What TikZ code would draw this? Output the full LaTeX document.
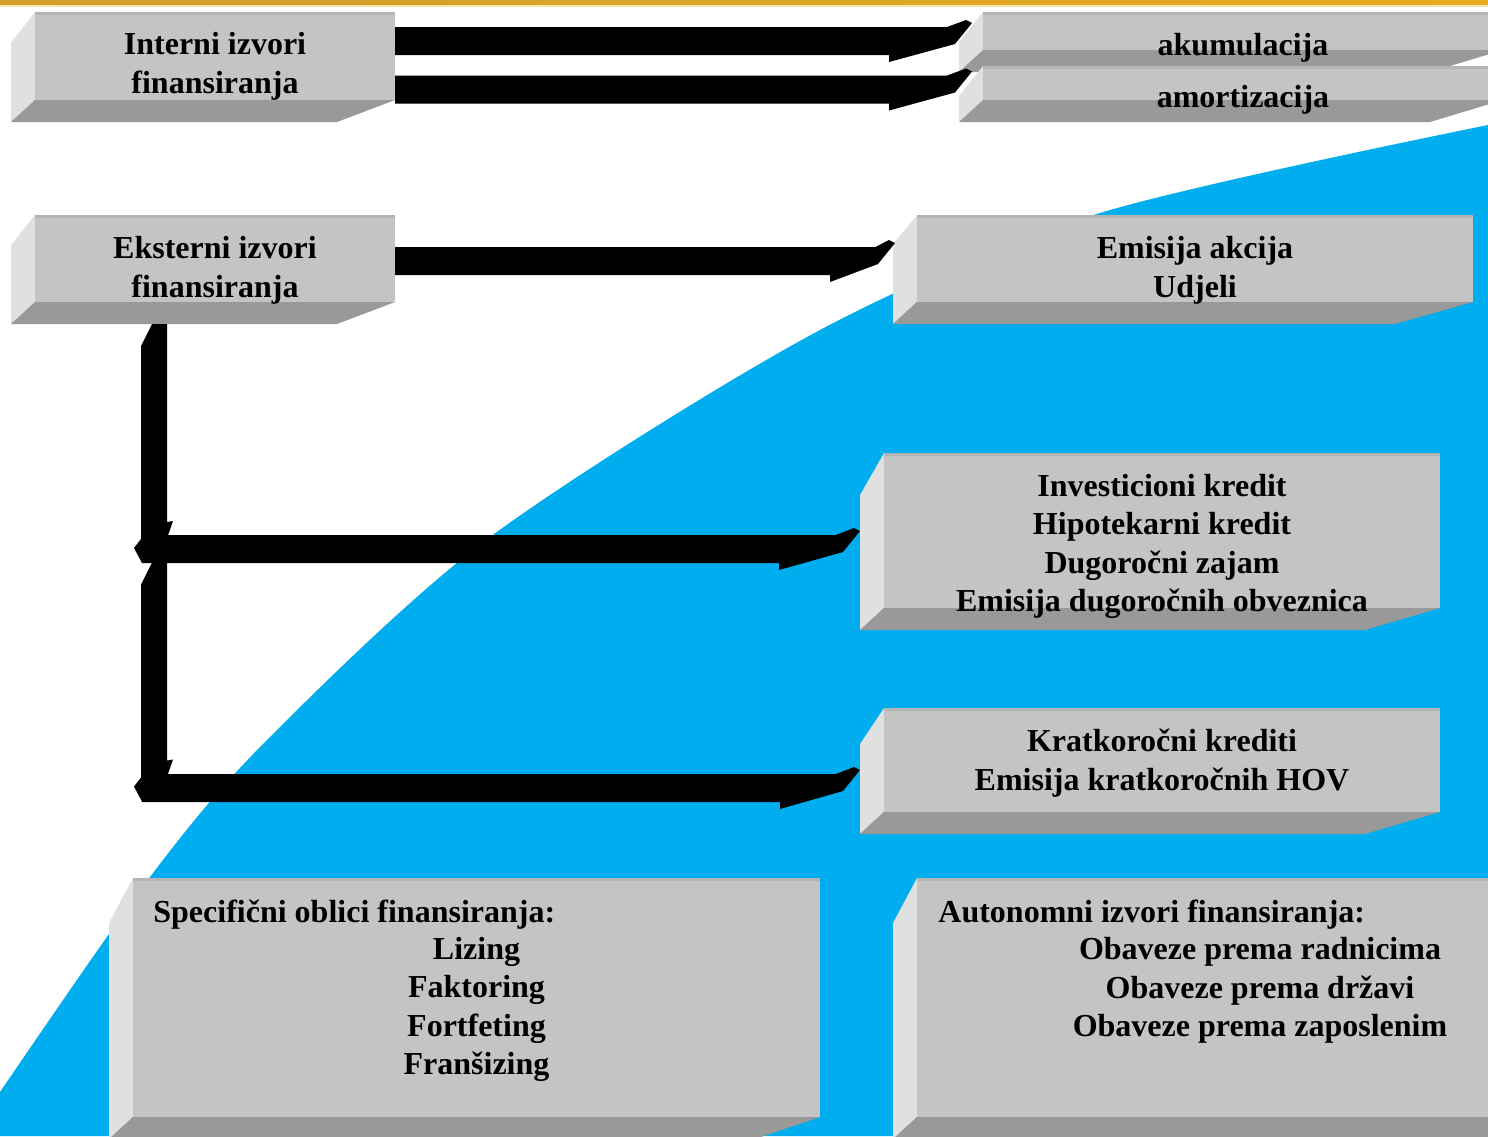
\documentclass[tikz,border=0pt]{standalone}
\usepackage{fontspec}
\setmainfont{Liberation Serif}
\usepackage{tikz}
\usetikzlibrary{calc}

\definecolor{swoosh}{RGB}{0,173,239}
\definecolor{frontgray}{RGB}{196,196,196}
\definecolor{sidegray}{RGB}{224,224,224}
\definecolor{basegray}{RGB}{153,153,153}
\definecolor{rimgray}{RGB}{180,180,180}
\definecolor{goldA}{RGB}{211,158,46}
\definecolor{goldB}{RGB}{255,200,8}
\definecolor{goldC}{RGB}{229,172,32}
\definecolor{goldpale}{RGB}{247,232,170}

% name, x0, y0, x1, y1, left drop, bottom shift, text, text offset
\newcommand\bevelbox[9]{%
    \fill[sidegray] (#2,#3) -- (#2-24,#3+#6) -- (#2-24,#5+22) -- (#2,#5) -- cycle;
    \fill[basegray] (#2,#5) -- (#4,#5) -- (#4-#7,#5+22) -- (#2-24,#5+22) -- cycle;
    \fill[frontgray] (#2,#3) rectangle (#4,#5);
    \draw[rimgray, line width=1.5] (#2,#3+1) -- (#4,#3+1);
    \node[boxarea, minimum width={(#4-#2)*0.5pt}, minimum height={(#5+22-#3)*0.5pt}] (#1) at ({(#2+#4)/2},{(#3+#5+22)/2}) {};
    \node[boxtext] (#1label) at ($(#1.center)+(0,#9)$) {#8};
}
% start, head point, head length
\newcommand\blockarrow[3]{%
    \fill[shift={(#2)}] (#1 |- 0,-14) -- ({-0.3*#3},-14) -- (-6,-21) -- (0,-18) -- (-17,3) -- (-#3,21) -- (-#3,14) -- (#1 |- 0,14) -- cycle;
}
\newcommand\droparrow[1]{%
    \fill[shift={(#1)}] (-1,-203) -- (10,-225) -- (25,-225) -- (25,-27) -- (31,-28) -- (23,-5) -- (0,14) -- (-8,-1) -- (-1,-10) -- cycle;
}

\begin{document}
\begin{tikzpicture}[x=0.5pt, y=-0.5pt,
    boxtext/.style={font=\bfseries\fontsize{16}{19.3}\selectfont, align=center, inner sep=0pt},
    boxarea/.style={inner sep=0pt, outer sep=0pt}]
    \useasboundingbox (0,0) rectangle (1488,1136);
    \fill[white] (0,0) rectangle (1488,1136);
    \fill[swoosh] plot[smooth] coordinates {(0,1092) (150,877) (267,740) (490,537) (820,330) (1100,213) (1488,125)} -- (1488,1136) -- (0,1136) -- cycle;
    \shade[left color=goldA, middle color=goldB, right color=goldC] (0,0) rectangle (1488,5);
    \fill[goldpale] (0,5) rectangle (1488,7);

    \bevelbox{int}{35}{12}{395}{100}{31}{58}{Interni izvori\\finansiranja}{-1}
    \bevelbox{ext}{35}{215}{395}{302}{30}{58}{Eksterni izvori\\finansiranja}{1}
    \bevelbox{aku}{983}{12}{1503}{50}{30}{73}{akumulacija}{6}
    \bevelbox{amo}{983}{66}{1503}{100}{30}{73}{amortizacija}{6}
    \bevelbox{emi}{917}{215}{1473}{302}{29}{78}{Emisija akcija\\Udjeli}{1}
    \bevelbox{inv}{884}{453}{1440}{608}{42}{75}{Investicioni kredit\\Hipotekarni kredit\\Dugoročni zajam\\Emisija dugoročnih obveznica}{5}
    \bevelbox{kra}{884}{708}{1440}{812}{36}{75}{Kratkoročni krediti\\Emisija kratkoročnih HOV}{-8}
    \bevelbox{spe}{133}{878}{820}{1117}{45}{65}{Lizing\\Faktoring\\Fortfeting\\Franšizing}{1}
    \bevelbox{aut}{917}{878}{1603}{1117}{45}{80}{Obaveze prema radnicima\\Obaveze prema državi\\Obaveze prema zaposlenim}{-18}
    \node[boxtext, anchor=base west] (spetitle) at ($(spe.north west)+(20,44)$) {Specifični oblici finansiranja:};
    \node[boxtext, anchor=base west] (auttitle) at ($(aut.north west)+(21,44)$) {Autonomni izvori finansiranja:};

    % arrows
    \coordinate (j1) at ($(ext.south west)+(107,225)$);
    \coordinate (j2) at ($(j1)+(0,238.5)$);
    \blockarrow{int.east}{$(aku.west)+(-11,-1)$}{83}
    \blockarrow{int.east}{$(amo.west)+(-11,-4.5)$}{83}
    \blockarrow{ext.east}{$(emi.west)+(-22,-8.5)$}{65}
    \droparrow{j1}
    \droparrow{j2}
    \blockarrow{j1}{$(inv.west)+(-24,7.5)$}{81}
    \blockarrow{j2}{$(kra.west)+(-24,17)$}{80}
\end{tikzpicture}
\end{document}
